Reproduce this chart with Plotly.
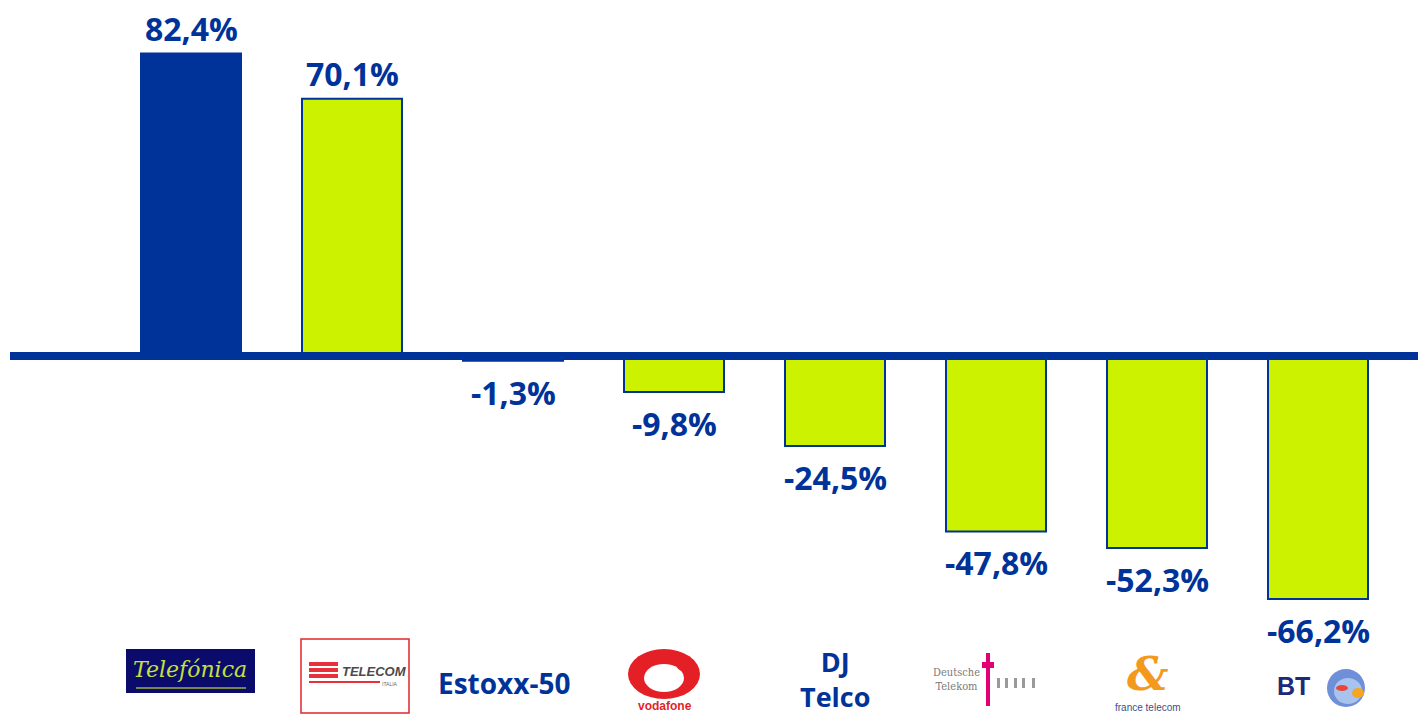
import plotly.graph_objects as go

# ---------------- data ----------------
companies = ["Telefónica", "Telecom Italia", "Estoxx-50", "Vodafone",
             "DJ Telco", "Deutsche Telekom", "France Telecom", "BT"]
returns_pct = [82.4, 70.1, -1.3, -9.8, -24.5, -47.8, -52.3, -66.2]
highlight = ["Telefónica"]

# ---------------- style ----------------
W, H = 1418, 716
NAVY = "#003399"
LIME = "#CCF200"
FONT = "Open Sans"
ZERO_PX = 356          # vertical pixel of the zero line
PX_PER_UNIT = 3.67     # pixels per percentage point
CAT_PX = 161           # pixels per category
FIRST_PX = 191         # pixel centre of first category
BAR_PX = 100

def py(px):
    """pixel (from top) -> paper y"""
    return 1 - px / H

colors = [NAVY if c in highlight else LIME for c in companies]

fig = go.Figure(go.Bar(
    x=companies, y=returns_pct,
    marker=dict(color=colors, line=dict(color=NAVY, width=2)),
    width=BAR_PX / CAT_PX, hoverinfo="skip",
))

# value labels
for c, v in zip(companies, returns_pct):
    txt = f"{v:.1f}".replace(".", ",") + "%"
    fig.add_annotation(
        x=c, y=v, xref="x", yref="y", text=txt, showarrow=False,
        yanchor="bottom" if v >= 0 else "top",
        yshift=2 if v >= 0 else -8,
        font=dict(family=FONT, size=32, color=NAVY, weight="bold"),
    )

# zero line
fig.add_shape(type="line", xref="paper", yref="y", x0=10 / W, x1=1, y0=0, y1=0,
              line=dict(color=NAVY, width=8), layer="above")

# ---------------- logos / category labels ----------------
def ann(cat, dx, ypx, text, size, color, family=FONT, weight="normal", **kw):
    fig.add_annotation(x=cat, xref="x", y=py(ypx), yref="paper", xshift=dx,
                       text=text, showarrow=False, yanchor="middle",
                       font=dict(family=family, size=size, color=color, weight=weight), **kw)

def rect(cat, x0, x1, ycen_px, y0, y1, color, kind="rect", line=None):
    fig.add_shape(type=kind, xref="x", yref="paper", xsizemode="pixel", ysizemode="pixel",
                  xanchor=cat, yanchor=py(ycen_px), x0=x0, x1=x1, y0=y0, y1=y1,
                  fillcolor=color, line=line or dict(width=0), layer="above")

# Telefónica
rect(companies[0], -65, 64, 671, 22, -22, "#0b0b6b")
rect(companies[0], -55, 55, 688, 0.7, -0.7, "#9cb03a")
ann(companies[0], -1, 669, "<i>Telefónica</i>", 22, "#c4e13c", family="DejaVu Serif")

# Telecom Italia
rect(companies[1], -51, 57, 676, 37, -37, "white", line=dict(color="#e02828", width=1.5))
RED = "#e8303a"
for yy in (12, 6, 0):
    rect(companies[1], -43, -14, 676, yy + 2, yy - 2, RED)
rect(companies[1], -43, 28, 676, -5, -7, RED)
ann(companies[1], 22, 671, "<i>TELECOM</i>", 13, "#4a4a4a", family="Liberation Sans", weight="bold")
ann(companies[1], 38, 684, "ITALIA", 5, "#666", family="Liberation Sans")

# Estoxx-50
ann(companies[2], -9, 683, "Estoxx-50", 28, NAVY, weight="bold")

# Vodafone
VRED = "#e41f26"
rect(companies[3], -46, 26, 674, 25, -25, VRED, kind="circle")
rect(companies[3], -30, 10, 678, 14, -14, "white", kind="circle")
rect(companies[3], 2, 16, 663, 8, -8, VRED, kind="circle")
ann(companies[3], -9, 706, "vodafone", 12, VRED, family="Liberation Sans", weight="bold")

# DJ Telco
ann(companies[4], 0, 679, "DJ<br>Telco", 27, NAVY, weight="bold")

# Deutsche Telekom
ann(companies[5], -40, 679, "Deutsche<br>Telekom", 11, "#7a7a7a",
    family="DejaVu Serif Condensed")
MAG = "#e20074"
rect(companies[5], -14, -2, 665, 3, -3, MAG)
rect(companies[5], -10, -6, 680, 27, -26, MAG)
for dx in (1, 9, 18, 26, 36):
    rect(companies[5], dx, dx + 3, 683, 5, -5, "#9a9a9a")

# France Telecom
ann(companies[6], -9, 674, "<i>&amp;</i>", 46, "#f39a1e", family="DejaVu Serif", weight="bold")
ann(companies[6], -9, 707, "france telecom", 10, "#3d4f8a", family="Liberation Sans")

# BT
ann(companies[7], -25, 686, "BT", 25, "#1e2a78", family="Liberation Sans", weight="bold")
rect(companies[7], 9, 47, 688, 19, -19, "#6f8fd8", kind="circle")
rect(companies[7], 16, 44, 690, 12, -14, "#a9c3ef", kind="circle")
rect(companies[7], 18, 30, 705, 20, 14, "#e8453c", kind="circle")
rect(companies[7], 34, 46, 700, 12, 2, "#f5a623", kind="circle")

# ---------------- layout ----------------
fig.update_layout(
    width=W, height=H,
    margin=dict(l=0, r=0, t=0, b=0),
    paper_bgcolor="white", plot_bgcolor="white",
    showlegend=False,
    xaxis=dict(visible=False, range=[-FIRST_PX / CAT_PX,
                                     len(companies) - 1 + (W - FIRST_PX - (len(companies) - 1) * CAT_PX) / CAT_PX]),
    yaxis=dict(visible=False, range=[-(H - ZERO_PX) / PX_PER_UNIT, ZERO_PX / PX_PER_UNIT]),
)

fig.write_html("out.html", config={"displayModeBar": False},
               post_script="document.body.style.margin='0';")
